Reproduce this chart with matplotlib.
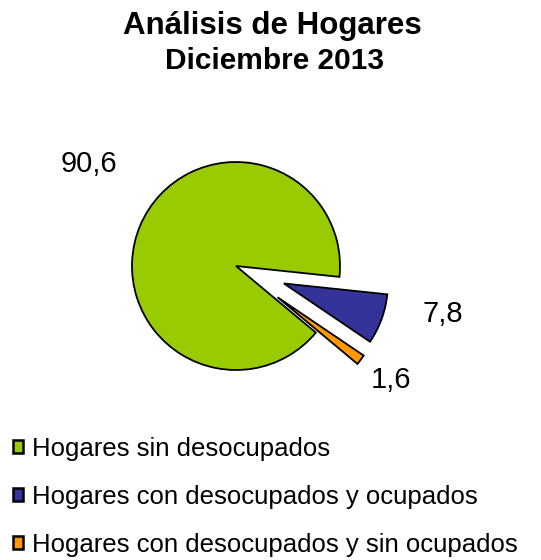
import matplotlib
matplotlib.use("Agg")
import matplotlib.pyplot as plt

# data
categories = [
    "Hogares sin desocupados",
    "Hogares con desocupados y ocupados",
    "Hogares con desocupados y sin ocupados",
]
values = [90.6, 7.8, 1.6]

# style
colors = ["#99CC00", "#333399", "#FF9900"]
RADIUS = 104
explode = [0.0, 0.49 * RADIUS, 0.5 * RADIUS]   # pie explode is in data units
label_xy = [(89, 396), (443, 246), (391, 180)]  # pixel positions (y up)

plt.rcParams["font.family"] = ["Liberation Sans", "DejaVu Sans"]

W, H = 541, 560
fig = plt.figure(figsize=(W / 100, H / 100), dpi=100)
ax = fig.add_axes([0, 0, 1, 1])

wedges, _ = ax.pie(
    values,
    colors=colors,
    explode=explode,
    startangle=-39.84,
    counterclock=False,
    center=(236, 294),
    radius=RADIUS,
    frame=True,
    wedgeprops=dict(edgecolor="black", linewidth=1.3),
)
ax.set_xlim(0, W)
ax.set_ylim(0, H)
ax.set_aspect("equal")
ax.axis("off")

for v, (x, y) in zip(values, label_xy):
    ax.text(x, y, f"{v:.1f}".replace(".", ","), fontsize=21,
            ha="center", va="center")

fig.text(272 / W, 1 - 34 / H, "Análisis de Hogares", fontsize=22.5,
         fontweight="bold", ha="center", va="baseline")
fig.text(275 / W, 1 - 69 / H, "Diciembre 2013", fontsize=21.5,
         fontweight="bold", ha="center", va="baseline")

leg = fig.legend(wedges, categories, loc="upper left",
                 bbox_to_anchor=(13 / W, 1 - 437 / H), frameon=False,
                 fontsize=18.5, handlelength=0.39, handleheight=0.39,
                 handletextpad=0.35, labelspacing=0.93, borderpad=0,
                 borderaxespad=0)
for h in leg.legend_handles:
    h.set_linewidth(1.8)

fig.savefig("out.png", dpi=100, facecolor="white")
